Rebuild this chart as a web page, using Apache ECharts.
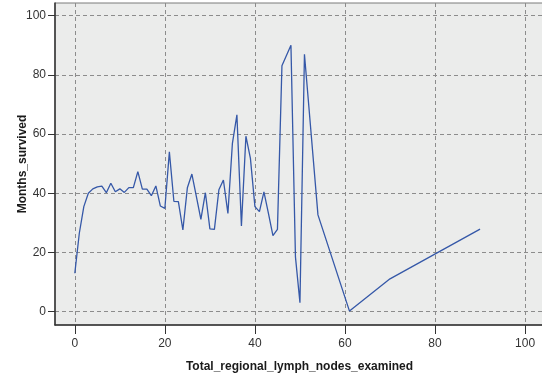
<!DOCTYPE html>
<html>
<head>
<meta charset="utf-8">
<title>Months survived by lymph nodes examined</title>
<script src="https://cdn.jsdelivr.net/npm/echarts@6/dist/echarts.min.js"></script>
<style>
  html, body { margin: 0; padding: 0; background: #ffffff; }
  #chart { width: 542px; height: 377px; }
</style>
</head>
<body>
<div id="chart"></div>
<script>
// nodes examined (x) and mean months survived (y)
var nodesExamined = [0, 1, 2, 3, 4, 5, 6, 7, 8, 9, 10, 11, 12, 13, 14, 15, 16, 17, 18, 19,
    20, 21, 22, 23, 24, 25, 26, 27, 28, 29, 30, 31, 32, 33, 34, 35, 36, 37, 38, 39,
    40, 41, 42, 43, 44, 45, 46, 48, 49, 50, 51, 54, 61, 70, 90];
var monthsSurvived = [13, 26.5, 35.5, 40, 41.5, 42.2, 42.4, 40.2, 43.4, 40.5, 41.5, 40.3, 41.9, 41.9, 47.3, 41.4, 41.4, 39.2, 42.5, 35.7,
    34.9, 54, 37.3, 37.2, 27.6, 41.9, 46.5, 38.9, 31.2, 40.2, 28, 27.8, 41.2, 44.5, 33.2, 56.9, 66.5, 29, 59.3, 51.8,
    35.5, 33.8, 40.5, 33.2, 25.7, 27.8, 83.1, 90, 18.5, 3, 87, 32.7, 0.2, 11.1, 27.9];
var xTicks = [0, 20, 40, 60, 80, 100];
var yTicks = [0, 20, 40, 60, 80, 100];

var points = nodesExamined.map(function (x, i) { return [x, monthsSurvived[i]]; });

var labelFont = 'Liberation Sans Narrow, Liberation Sans, Arial, sans-serif';
var nameFont = 'Liberation Sans, Arial, sans-serif';

var chart = echarts.init(document.getElementById('chart'));
chart.setOption({
    animation: false,
    backgroundColor: '#ffffff',
    grid: {
        left: 55,
        right: -2,
        top: 3,
        bottom: 52,
        outerBoundsMode: 'none',
        containLabel: false,
        show: true,
        backgroundColor: '#ebeceb',
        borderColor: '#7a7a7a',
        borderWidth: 1
    },
    xAxis: {
        type: 'value',
        min: -4.4,
        max: 104.2,
        name: 'Total_regional_lymph_nodes_examined',
        nameLocation: 'middle',
        nameGap: 36,
        nameMoveOverlap: false,
        nameTextStyle: { fontFamily: nameFont, fontSize: 12, fontWeight: 'bold', color: '#1a1a1a' },
        axisLine: { show: true, onZero: false, lineStyle: { color: '#333333', width: 1.5 } },
        axisTick: { show: true, customValues: xTicks, length: 9, lineStyle: { color: '#333333' } },
        axisLabel: { customValues: xTicks, margin: 13, fontFamily: labelFont, fontSize: 12, color: '#333333' },
        splitLine: { show: true, lineStyle: { color: '#8c8c8c', type: [4, 3], width: 1 } }
    },
    yAxis: {
        type: 'value',
        min: -4.5,
        max: 104.3,
        name: 'Months_survived',
        nameLocation: 'middle',
        nameGap: 26,
        nameMoveOverlap: false,
        nameTextStyle: { fontFamily: nameFont, fontSize: 12, fontWeight: 'bold', color: '#1a1a1a' },
        axisLine: { show: true, onZero: false, lineStyle: { color: '#333333', width: 1.5 } },
        axisTick: { show: true, customValues: yTicks, length: 7, lineStyle: { color: '#333333' } },
        axisLabel: { customValues: yTicks, margin: 9, fontFamily: labelFont, fontSize: 12, color: '#333333' },
        splitLine: { show: true, lineStyle: { color: '#8c8c8c', type: [4, 3], width: 1 } }
    },
    series: [{
        type: 'line',
        data: points,
        showSymbol: false,
        lineStyle: { color: '#3558a8', width: 1.3 }
    }]
});
</script>
</body>
</html>
